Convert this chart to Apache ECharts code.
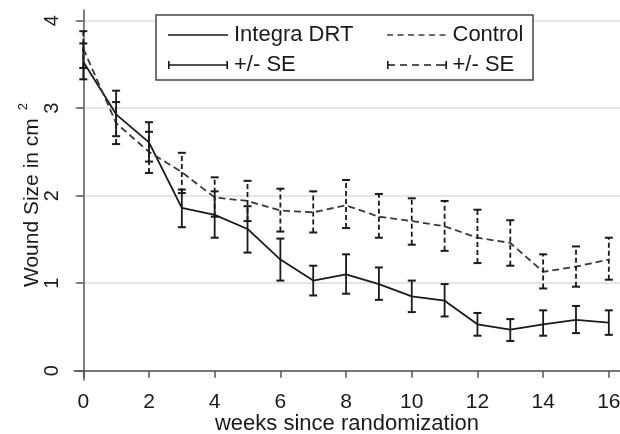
<!DOCTYPE html>
<html>
<head>
<meta charset="utf-8">
<script src="https://cdn.jsdelivr.net/npm/echarts@6/dist/echarts.min.js"></script>
<style>html,body{margin:0;padding:0;background:#fff}#c{width:620px;height:434px}</style>
</head>
<body>
<div id="c"></div>
<script>
const weeks = [0,1,2,3,4,5,6,7,8,9,10,11,12,13,14,15,16];
const integraMean = [3.53,2.93,2.61,1.86,1.78,1.62,1.27,1.03,1.10,0.99,0.85,0.80,0.53,0.47,0.53,0.58,0.55];
const integraLow  = [3.33,2.68,2.39,1.64,1.52,1.35,1.03,0.86,0.88,0.81,0.67,0.62,0.40,0.34,0.40,0.43,0.41];
const integraHigh = [3.74,3.20,2.84,2.07,2.05,1.88,1.51,1.20,1.33,1.18,1.03,0.99,0.66,0.59,0.69,0.74,0.69];
const controlMean = [3.68,2.83,2.50,2.27,1.98,1.94,1.83,1.81,1.89,1.76,1.71,1.65,1.52,1.46,1.13,1.19,1.27];
const controlLow  = [3.46,2.59,2.26,2.03,1.76,1.71,1.59,1.58,1.63,1.52,1.44,1.37,1.23,1.20,0.94,0.96,1.04];
const controlHigh = [3.88,3.07,2.73,2.49,2.21,2.17,2.08,2.05,2.18,2.02,1.97,1.94,1.84,1.72,1.33,1.42,1.52];
const xTicks = [0,2,4,6,8,10,12,14,16];
const yTicks = [0,1,2,3,4];

const FONT = "'Liberation Sans', Arial, sans-serif";
const INK = '#1a1a1a';

function pairs(xs, ys){ return xs.map((x,i)=>[x, ys[i]]); }
function triples(xs, lo, hi){ return xs.map((x,i)=>[x, lo[i], hi[i]]); }

function errRender(dashed){
  return function(params, api){
    const x = api.value(0), lo = api.value(1), hi = api.value(2);
    const pLo = api.coord([x, lo]), pHi = api.coord([x, hi]);
    const cw = 4;
    const barStyle = {stroke: INK, lineWidth: 1.8, lineDash: dashed ? [5,3] : null, fill: null};
    const capStyle = {stroke: INK, lineWidth: 2, fill: null};
    return {type:'group', children:[
      {type:'line', shape:{x1:pLo[0], y1:pLo[1], x2:pHi[0], y2:pHi[1]}, style: barStyle},
      {type:'line', shape:{x1:pLo[0]-cw, y1:pLo[1], x2:pLo[0]+cw, y2:pLo[1]}, style: capStyle},
      {type:'line', shape:{x1:pHi[0]-cw, y1:pHi[1], x2:pHi[0]+cw, y2:pHi[1]}, style: capStyle}
    ]};
  };
}

// legend icons (60 x 8 boxes); tiny corner dots keep the bounding box at full height
const bbox = 'M0 0L0.01 0L0 0.01Z M60 8L59.99 8L60 7.99Z ';
const iconSolid = 'path://' + bbox + 'M0 3.2H60V4.8H0Z';
const iconDashed = 'path://' + bbox + 'M0 3.2H6V4.8H0Z M10.5 3.2H16.5V4.8H10.5Z M21 3.2H27V4.8H21Z M31.5 3.2H37.5V4.8H31.5Z M42 3.2H48V4.8H42Z M52.5 3.2H58.5V4.8H52.5Z';
const capSolid = 'path://M0 0H1.6V8H0Z M1.6 3.2H58.4V4.8H1.6Z M58.4 0H60V8H58.4Z';
const capDashed = 'path://M0 0H1.6V8H0Z M1.6 3.2H8V4.8H1.6Z M13 3.2H20V4.8H13Z M25 3.2H32V4.8H25Z M37 3.2H44V4.8H37Z M49 3.2H56V4.8H49Z M56 3.2H58.4V4.8H56Z M58.4 0H60V8H58.4Z';

const chart = echarts.init(document.getElementById('c'), null, {renderer:'canvas'});
chart.setOption({
  backgroundColor: '#fff',
  animation: false,
  textStyle: {fontFamily: FONT},
  grid: {left: 74, right: 0, top: 10, bottom: 54, containLabel: false, outerBoundsMode: 'none'},
  graphic: [{
    type: 'rect', z: 3,
    shape: {x: 156, y: 15, width: 377, height: 65},
    style: {fill: '#fff', stroke: '#444', lineWidth: 1.5}
  }],
  legend: [
    {
      left: 163, top: 19, orient: 'vertical', itemGap: 8, itemWidth: 60, itemHeight: 8,
      selectedMode: false, z: 5,
      textStyle: {fontSize: 22, color: INK, fontFamily: FONT, padding: [0,0,0,1]},
      data: [{name:'Integra DRT', icon: iconSolid}, {name:'+/- SE', icon: capSolid}]
    },
    {
      left: 382, top: 19, orient: 'vertical', itemGap: 8, itemWidth: 61, itemHeight: 8,
      selectedMode: false, z: 5,
      textStyle: {fontSize: 22, color: INK, fontFamily: FONT, padding: [0,0,0,0]},
      data: [{name:'Control', icon: iconDashed}, {name:'+/- SE ', icon: capDashed}]
    }
  ],
  xAxis: {
    type: 'value', min: -0.283, max: 16.34,
    name: 'weeks since randomization', nameLocation: 'middle', nameGap: 33, nameMoveOverlap: false,
    nameTextStyle: {fontSize: 22, color: INK, fontFamily: FONT},
    axisLine: {show: true, lineStyle: {color: '#555', width: 1.5}},
    axisTick: {show: true, inside: false, length: 7, customValues: xTicks, lineStyle: {color: '#555', width: 1.5}},
    axisLabel: {customValues: xTicks, fontSize: 21, color: INK, margin: 12, fontFamily: FONT},
    splitLine: {show: false}
  },
  yAxis: {
    type: 'value', min: -0.106, max: 4.122,
    name: '{a|Wound Size in cm}{s|2}', nameLocation: 'middle', nameGap: 31, nameRotate: 90, nameMoveOverlap: false,
    nameTextStyle: {
      fontSize: 21, color: INK, fontFamily: FONT,
      rich: {
        a: {fontSize: 21, color: INK, fontFamily: FONT, verticalAlign: 'bottom'},
        s: {fontSize: 13, color: INK, fontFamily: FONT, verticalAlign: 'top', padding: [0,0,13,8]}
      }
    },
    axisLine: {show: true, lineStyle: {color: '#555', width: 1.5}},
    axisTick: {show: true, inside: false, length: 7, customValues: yTicks, lineStyle: {color: '#555', width: 1.5}},
    axisLabel: {customValues: yTicks, rotate: 90, fontSize: 20, color: INK, margin: 12, fontFamily: FONT},
    splitLine: {show: true, lineStyle: {color: '#dcdcdc', width: 1.5}}
  },
  series: [
    {
      name: 'Integra DRT', type: 'line', data: pairs(weeks, integraMean),
      symbol: 'none', lineStyle: {color: INK, width: 1.8}, itemStyle: {color: INK}, z: 3
    },
    {
      name: 'Control', type: 'line', data: pairs(weeks, controlMean),
      symbol: 'none', lineStyle: {color: '#3a3a3a', width: 1.8, type: [7,4]}, itemStyle: {color: '#3a3a3a'}, z: 3
    },
    {
      name: '+/- SE', type: 'custom', renderItem: errRender(false),
      data: triples(weeks, integraLow, integraHigh), encode: {x: 0, y: [1,2]},
      itemStyle: {color: INK}, z: 4
    },
    {
      name: '+/- SE ', type: 'custom', renderItem: errRender(true),
      data: triples(weeks, controlLow, controlHigh), encode: {x: 0, y: [1,2]},
      itemStyle: {color: INK}, z: 4
    }
  ]
});
</script>
</body>
</html>
